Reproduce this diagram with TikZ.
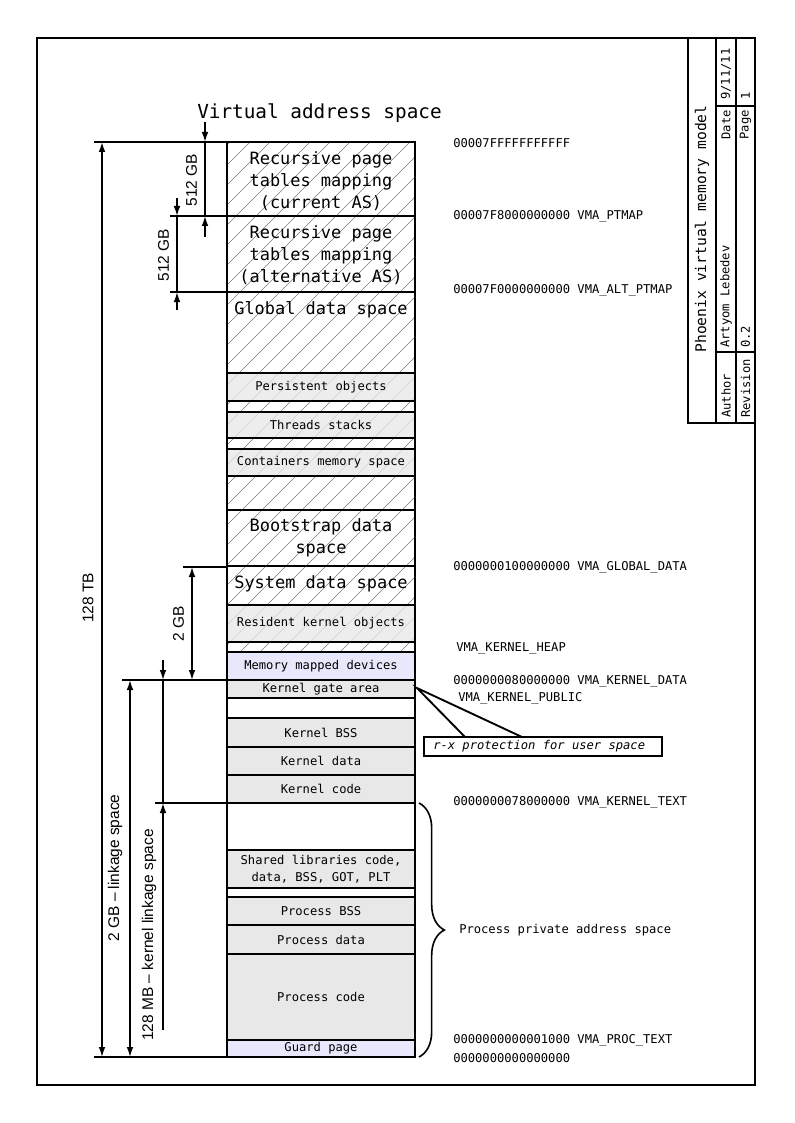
\documentclass[tikz,border=0pt]{standalone}
\usepackage{fontspec}
\setmainfont{DejaVu Sans Mono}
\newfontfamily\lblfont{Liberation Sans}
\usetikzlibrary{arrows.meta,decorations.pathreplacing}
\definecolor{boxgray}{RGB}{232,232,232}
\definecolor{boxblue}{RGB}{232,232,252}
\definecolor{hatchgray}{RGB}{125,125,125}
\begin{document}
\begin{tikzpicture}[x=0.75pt,y=-0.75pt,
  frame/.style={line width=1.1pt},
  blk/.style={line width=1.5pt},
  ext/.style={line width=1.4pt},
  dim/.style={line width=1.1pt},
  tip/.style={-{Latex[length=7.5pt,width=5pt]}},
  dtip/.style={{Latex[length=7.5pt,width=5pt]}-{Latex[length=7.5pt,width=5pt]}},
  hatch/.style={draw=hatchgray,line width=0.4pt},
  big/.style={font=\fontsize{12.7pt}{16.5pt}\selectfont,align=center,inner sep=0pt},
  small/.style={font=\fontsize{9.1pt}{12.75pt}\selectfont,align=center,inner sep=0pt},
  addr/.style={font=\fontsize{9.1pt}{11pt}\selectfont,anchor=west,inner sep=0pt},
  side/.style={font=\lblfont\fontsize{11.6pt}{13pt}\selectfont,rotate=90,inner sep=0pt},
  tb/.style={font=\fontsize{9.1pt}{11pt}\selectfont,rotate=90,inner sep=0pt},
]
\useasboundingbox (0,0) rectangle (794,1123);

% page frame and title block
\draw[frame] (37,38) rectangle (755,1085);
\draw[frame] (688,38) rectangle (755,423);
\draw[frame] (716,38) -- (716,423);
\draw[frame] (736,38) -- (736,423);
\draw[frame] (716,106) -- (755,106);
\draw[frame] (716,352) -- (755,352);
\node[tb,font=\fontsize{11pt}{13pt}\selectfont] (tbtitle) at (702,229) {Phoenix virtual memory model};
\node[tb,anchor=west] (tbdatev) at (726,100) {9/11/11};
\node[tb,anchor=east] (tbdate) at (726,110) {Date};
\node[tb,anchor=west] (tbauthv) at (726,348) {Artyom Lebedev};
\node[tb,anchor=west] (tbauth) at (726,418) {Author};
\node[tb,anchor=west] (tbpagev) at (745.5,100) {1};
\node[tb,anchor=east] (tbpage) at (745.5,110) {Page};
\node[tb,anchor=west] (tbrevv) at (745.5,348) {0.2};
\node[tb,anchor=west] (tbrev) at (745.5,418) {Revision};

% hatched part of the address space
\begin{scope}
  \clip (227,142) rectangle (415,652);
  \foreach \k in {0,...,37}
    \draw[hatch] (-300+\k*20,652) -- ++(520,-520);
\end{scope}

% filled regions
\fill[boxgray,fill opacity=0.8] (227,373) rectangle (415,401);
\fill[boxgray,fill opacity=0.8] (227,412) rectangle (415,438);
\fill[boxgray,fill opacity=0.8] (227,449) rectangle (415,476);
\fill[boxgray,fill opacity=0.8] (227,605) rectangle (415,642);
\fill[boxblue] (227,652) rectangle (415,680);
\fill[boxgray] (227,680) rectangle (415,698);
\fill[boxgray] (227,718) rectangle (415,803);
\fill[boxgray] (227,850) rectangle (415,888);
\fill[boxgray] (227,897) rectangle (415,1040);
\fill[boxblue] (227,1040) rectangle (415,1057);

% column outline and region boundaries
\draw[blk] (227,142) rectangle (415,1057);
\foreach \y in {216,292,373,401,412,438,449,476,510,566,605,642,652,680,698,718,747,775,803,850,888,897,925,954,1040}
  \draw[blk] (227,\y) -- (415,\y);

% region labels
\node[big] (rcur) at (321,181) {Recursive page\\tables mapping\\(current AS)};
\node[big] (ralt) at (321,255) {Recursive page\\tables mapping\\(alternative AS)};
\node[big] (gds) at (321,310) {Global data space};
\node[small] (pers) at (321,387) {Persistent objects};
\node[small] (thr) at (321,425) {Threads stacks};
\node[small] (cont) at (321,462.5) {Containers memory space};
\node[big] (boot) at (321,538) {Bootstrap data\\space};
\node[big] (sds) at (321,584) {System data space};
\node[small] (rko) at (321,623.5) {Resident kernel objects};
\node[small] (mmd) at (321,666) {Memory mapped devices};
\node[small] (kga) at (321,689) {Kernel gate area};
\node[small] (kbss) at (321,732.5) {Kernel BSS};
\node[small] (kdata) at (321,761) {Kernel data};
\node[small] (kcode) at (321,789) {Kernel code};
\node[small] (shl) at (321,869) {Shared libraries code,\\data, BSS, GOT, PLT};
\node[small] (pbss) at (321,911) {Process BSS};
\node[small] (pdata) at (321,940) {Process data};
\node[small] (pcode) at (321,997) {Process code};
\node[small] (guard) at (321,1048.5) {Guard page};

% title of the column
\node[font=\fontsize{14.5pt}{17pt}\selectfont,anchor=west,inner sep=0pt] (vas) at (197,113) {Virtual address space};

% addresses and symbols
\node[addr] (ad1) at (453,143) {00007FFFFFFFFFFF};
\node[addr] (ad2) at (453,216) {00007F8000000000 VMA\_PTMAP};
\node[addr] (ad3) at (453,290) {00007F0000000000 VMA\_ALT\_PTMAP};
\node[addr] (ad4) at (453,567) {0000000100000000 VMA\_GLOBAL\_DATA};
\node[addr] (ad5) at (456,649) {VMA\_KERNEL\_HEAP};
\node[addr] (ad6) at (453,681) {0000000080000000 VMA\_KERNEL\_DATA};
\node[addr] (ad7) at (458,698) {VMA\_KERNEL\_PUBLIC};
\node[addr] (ad8) at (453,802) {0000000078000000 VMA\_KERNEL\_TEXT};
\node[addr] (ad9) at (453,1040) {0000000000001000 VMA\_PROC\_TEXT};
\node[addr] (ad10) at (453,1058) {0000000000000000};

% extension lines
\draw[ext] (94,142) -- (227,142);
\draw[ext] (94,1057) -- (227,1057);
\draw[ext] (170,216) -- (227,216);
\draw[ext] (170,292) -- (227,292);
\draw[ext] (183,567) -- (227,567);
\draw[ext] (122,680) -- (227,680);
\draw[ext] (155,803) -- (227,803);

% dimension: 128 TB
\coordinate (tbA) at (102,142);
\coordinate (tbB) at (102,1057);
\draw[dim,dtip] (tbA) -- (tbB);
\node[side] (l128tb) at (88,598) {128 TB};

% dimension: 512 GB (current AS)
\coordinate (a0) at (205,122);
\coordinate (a1) at (205,142);
\coordinate (a2) at (205,216);
\coordinate (a3) at (205,237);
\draw[dim,tip] (a0) -- (a1);
\draw[dim] (a1) -- (a2);
\draw[dim,tip] (a3) -- (a2);
\node[side] (l512a) at (191.5,180) {512 GB};

% dimension: 512 GB (alternative AS)
\coordinate (b0) at (177,198);
\coordinate (b1) at (177,216);
\coordinate (b2) at (177,292);
\coordinate (b3) at (177,310);
\draw[dim,tip] (b0) -- (b1);
\draw[dim] (b1) -- (b2);
\draw[dim,tip] (b3) -- (b2);
\node[side] (l512b) at (163.5,255) {512 GB};

% dimension: 2 GB system data
\coordinate (c1) at (192,567);
\coordinate (c2) at (192,680);
\draw[dim,dtip] (c1) -- (c2);
\node[side] (l2gb) at (178.5,624) {2 GB};

% dimension: 2 GB linkage space
\coordinate (d1) at (130,680);
\coordinate (d2) at (130,1057);
\draw[dim,dtip] (d1) -- (d2);
\node[side] (llink) at (115,868) {2 GB – linkage space};

% dimension: 128 MB kernel linkage space
\coordinate (e0) at (163,660);
\coordinate (e1) at (163,680);
\coordinate (e2) at (163,803);
\coordinate (e3) at (163,1030);
\draw[dim,tip] (e0) -- (e1);
\draw[dim] (e1) -- (e2);
\draw[dim,tip] (e3) -- (e2);
\node[side] (lklink) at (149,935) {128 MB – kernel linkage space};

% callout for the kernel gate area
\draw[line width=1.4pt,fill=white] (424,737) rectangle (662,756);
\node[addr,font=\itshape\fontsize{9.1pt}{11pt}\selectfont] (rx) at (433,746.5) {r-x protection for user space};
\coordinate (gateTip) at (417,688);
\coordinate (cp1) at (465,737);
\coordinate (cp2) at (522,737);
\draw[line width=1.4pt] (cp1) -- (gateTip) -- (cp2);

% process private address space
\draw[line width=1.2pt,decorate,decoration={brace,amplitude=19pt,aspect=0.5}] (419,803) -- (419,1057);
\node[addr] (ppas) at (459,930) {Process private address space};
\end{tikzpicture}
\end{document}
